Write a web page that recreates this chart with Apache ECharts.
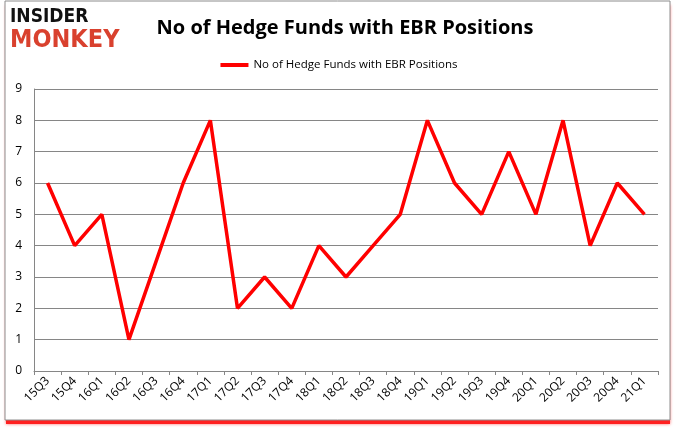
<!DOCTYPE html>
<html><head><meta charset="utf-8">
<script src="https://cdn.jsdelivr.net/npm/echarts@6/dist/echarts.min.js"></script>
<style>html,body{margin:0;padding:0;background:#fff}#c{width:678px;height:431px}</style>
</head><body><div id="c"></div>
<script>
var categories = ['15Q3','15Q4','16Q1','16Q2','16Q3','16Q4','17Q1','17Q2','17Q3','17Q4','18Q1','18Q2','18Q3','18Q4','19Q1','19Q2','19Q3','19Q4','20Q1','20Q2','20Q3','20Q4','21Q1'];
var values = [6,4,5,1,3.5,6,8,2,3,2,4,3,4,5,8,6,5,7,5,8,4,6,5];
var seriesName = 'No of Hedge Funds with EBR Positions';
var titleText = 'No of Hedge Funds with EBR Positions';

var chart = echarts.init(document.getElementById('c'), null, {renderer:'canvas'});
chart.setOption({
  animation:false,
  backgroundColor:'#fff',
  graphic:[
    {type:'rect', shape:{x:6,y:5,width:664,height:419}, style:{fill:'#ff2020', shadowBlur:3, shadowColor:'rgba(255,0,0,0.6)'}, z:-20},
    {type:'rect', shape:{x:5,y:1,width:665,height:419}, style:{fill:'#fff', stroke:'#8c8c8c', lineWidth:1}, z:-10},
    {type:'text', left:10, top:8, style:{text:'INSIDER', font:'bold 19px "DejaVu Sans Condensed"', fill:'#111'}, z:5},
    {type:'text', left:10, top:28, style:{text:'MONKEY', font:'bold 25px "DejaVu Sans Condensed"', fill:'#d9412e'}, z:5}
  ],
  title:{text:titleText, left:340, textAlign:'center', top:13,
    textStyle:{fontFamily:'"Open Sans", sans-serif', fontWeight:'bold', fontSize:20, color:'#000'}},
  legend:{top:54, left:'center', itemWidth:28, itemHeight:4, icon:'rect', itemGap:3,
    textStyle:{fontFamily:'"Open Sans", sans-serif', fontSize:11.5, color:'#000'},
    data:[seriesName]},
  grid:{left:34, top:89, right:20, bottom:60, containLabel:false},
  xAxis:{type:'category', data:categories, boundaryGap:true,
    axisLine:{show:true, lineStyle:{color:'#868686'}},
    axisTick:{show:true, alignWithLabel:false, lineStyle:{color:'#868686'}, length:4},
    axisLabel:{rotate:45, fontSize:12, color:'#000', fontFamily:'"Open Sans", sans-serif', interval:0, margin:8}},
  yAxis:{type:'value', min:0, max:9, interval:1,
    axisLine:{show:true, lineStyle:{color:'#868686'}},
    axisTick:{show:false},
    splitLine:{show:true, lineStyle:{color:'#868686', width:1}},
    axisLabel:{fontSize:12, color:'#000', fontFamily:'"Open Sans", sans-serif', margin:12}},
  series:[{name:seriesName, type:'line', data:values, symbol:'none',
    lineStyle:{color:'#ff0000', width:3.5}, itemStyle:{color:'#ff0000'}}]
});
</script></body></html>
